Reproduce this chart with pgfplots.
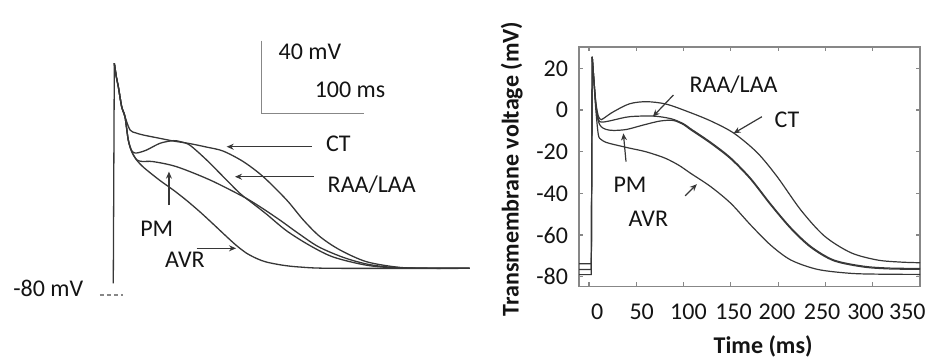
\documentclass[border=0pt]{standalone}
\usepackage{fontspec}
\setmainfont{Carlito}
\usepackage{pgfplots}
\pgfplotsset{compat=1.18}
\usetikzlibrary{arrows.meta}
\definecolor{curve}{RGB}{55,55,55}
\definecolor{frame}{RGB}{135,135,135}
\definecolor{txt}{RGB}{20,20,20}
\begin{document}
\begin{tikzpicture}[
  ann/.style={font=\fontsize{12}{14}\selectfont, text=txt},
  tl/.style={font=\fontsize{12}{14}\selectfont, text=txt, inner sep=0pt},
  arr/.style={-{Stealth[length=3.5pt,width=3pt]}, curve, line width=0.6pt}]
\useasboundingbox (0pt,0pt) rectangle (466.5pt,181.5pt);
%================ LEFT PANEL (schematic, no axes) =================
\begin{axis}[at={(0pt,0pt)}, anchor=south west, scale only axis,
  width=235pt, height=181.5pt,
  xmin=-110.3, xmax=347.3, ymin=-117.4, ymax=82.35,
  axis lines=none, clip=false,
  every axis plot/.append style={curve, line width=0.65pt}]
% upstroke
\addplot[sharp plot] coordinates {(0,-73.6) (1,47.5)};
% CT
\addplot[smooth, tension=0.5] coordinates {(1,47.5) (3,40) (5,34.3) (8.2,23.6) (11.4,18.1) (16.3,10.8) (22,9.2) (29.2,8.05) (45.5,6.2) (58.4,4.75) (74.7,3.3) (90.9,1.4) (107,-0.8) (126.6,-6.6) (146,-14.9) (168.8,-27.7) (185,-38.7) (201.3,-47.9) (220.7,-55.2) (246.7,-61.7) (279,-64.8) (310,-65.3) (347,-65.3)};
% RAA/LAA
\addplot[smooth, tension=0.5] coordinates {(1,47.5) (3,40) (5,34.3) (8.2,23.6) (11.4,18.1) (14.6,5.3) (17.9,-0.5) (21,-1.8) (25,-1.6) (32.5,-0.2) (45.5,3.5) (58.4,4.95) (66,4.3) (74.7,2.4) (90.9,-5.7) (107.1,-14.9) (123.4,-24.1) (136.3,-29.8) (149.4,-35.6) (168.8,-44.7) (191.5,-52.8) (214.2,-59.1) (246.7,-63.6) (279,-65.1) (347,-65.3)};
% PM
\addplot[smooth, tension=0.5] coordinates {(1,47.5) (3,40) (5,34.3) (8.2,23.6) (11.4,18.1) (14.6,5.3) (17.9,-1) (22.7,-5.5) (28,-6.5) (38.9,-6.6) (61.7,-9.4) (94.2,-16.7) (126.6,-25.9) (142.8,-31.4) (162.3,-38.8) (180,-46) (200,-53.5) (225,-59.5) (250,-63.3) (280,-65) (347,-65.3)};
% AVR
\addplot[smooth, tension=0.5] coordinates {(1,47.5) (3,40) (5,34.3) (8.2,23.6) (11.4,18.1) (14.6,5.3) (17.9,-1) (22.7,-5.7) (30,-10) (45.5,-17) (58.4,-22.2) (71.5,-28) (84.9,-34.5) (97,-40.8) (110.4,-47.9) (120,-52.8) (129.8,-57) (140,-60) (149.4,-61.9) (165,-63.6) (181.8,-64.6) (214.2,-65.3) (347,-65.3)};
% scale bars
\draw[frame, line width=0.7pt] (axis cs:144.5,60) -- (axis cs:144.5,20) -- (axis cs:244.5,20);
\draw[frame, line width=0.7pt, dash pattern=on 2pt off 1.5pt] (axis cs:-13,-80) -- (axis cs:9.7,-80);
\node[ann] at (axis cs:191.5,53.9) {40 mV};
\node[ann] at (axis cs:230.5,32.8) {100 ms};
\node[ann] at (axis cs:-63.3,-76.3) {-80 mV};
\node[ann] at (axis cs:219.1,3.45) {CT};
\node[ann] at (axis cs:251.6,-19.5) {RAA/LAA};
\node[ann] at (axis cs:42.3,-43.3) {PM};
\node[ann] at (axis cs:69.8,-60.7) {AVR};
\draw[arr] (axis cs:193.2,1.6) -- (axis cs:110.4,1.6);
\draw[arr] (axis cs:195,-14.9) -- (axis cs:118.5,-14.9);
\draw[arr] (axis cs:54.2,-30.5) -- (axis cs:54.2,-12.1);
\draw[arr] (axis cs:81.2,-54.3) -- (axis cs:119.5,-54.3);
\end{axis}
%================ RIGHT PANEL =================
\begin{axis}[at={(289.5pt,38.25pt)}, anchor=south west, scale only axis,
  width=170.5pt, height=119.9pt,
  xmin=-10.5, xmax=350, ymin=-84.7, ymax=30.4,
  xtick={0,50,...,350}, ytick={-80,-60,...,20},
  xticklabels={},
  tick pos=both, tick align=inside, major tick length=2pt,
  every tick/.style={frame, line width=0.6pt},
  axis line style={frame, line width=0.9pt},
  /pgf/number format/assume math mode=true,
  tick label style={font=\fontsize{12}{14}\selectfont, text=txt},
  yticklabel style={xshift=-2pt},
  xlabel={\textbf{Time (ms)}}, ylabel={\textbf{Transmembrane voltage (mV)}},
  label style={font=\fontsize{12}{14}\selectfont, text=txt},
  xlabel style={at={(rel axis cs:0.54,-0.251)}, anchor=center},
  ylabel style={at={(rel axis cs:-0.197,0.49)}, anchor=center},
  clip=false,
  every axis plot/.append style={curve, line width=0.6pt}]
% baselines + upstrokes
\addplot[sharp plot] coordinates {(-10.5,-73.8) (2.5,-73.8) (3.5,25.5)};
\addplot[sharp plot] coordinates {(-10.5,-76.5) (2.5,-76.5) (3.5,25.5)};
\addplot[sharp plot] coordinates {(-10.5,-79) (2.5,-79) (3.5,25.5)};
% CT
\addplot[smooth, tension=0.5] coordinates {(3.5,25.5) (5.5,13) (7.5,3) (10,-3) (13,-4.6) (18,-3.2) (26,-0.8) (43,3) (61,4) (82,2.8) (107,-1.2) (130,-5.5) (153.5,-11.2) (178,-20.5) (199,-32) (224,-48) (249,-60.5) (277,-68.5) (305,-72) (330,-73) (350,-73.3)};
% RAA/LAA
\addplot[smooth, tension=0.5] coordinates {(3.5,25.5) (5.5,13) (7.5,2) (10,-4.5) (13,-5.8) (20,-5.4) (26,-4.8) (43,-3.2) (68,-2.9) (87,-4.2) (100,-6.6) (107.6,-9) (128.8,-15.5) (150,-23) (171,-32.8) (192,-45) (213.5,-56.5) (234.7,-65.5) (259,-72) (291,-75) (320,-75.9) (350,-76)};
% PM
\addplot[smooth, tension=0.5] coordinates {(3.5,25.5) (5.5,13) (7.5,1) (10,-5.5) (13,-8) (18,-9.3) (26,-9.8) (40,-9.3) (57.5,-7.2) (75,-5.3) (89,-5) (100,-7) (107.6,-9.5) (128.8,-16) (150,-23.5) (171,-33.3) (192,-45.5) (213.5,-57) (234.7,-66) (259,-72.4) (291,-75.4) (320,-76.3) (350,-76.4)};
% AVR
\addplot[smooth, tension=0.5] coordinates {(3.5,25.5) (5.5,12) (7.5,-1) (10,-12) (13,-14.2) (18,-15.5) (26,-16.5) (43,-18.3) (60,-20) (80,-23) (95,-26.5) (107.6,-30.4) (128.8,-36.8) (150,-44.8) (171,-55.2) (192,-64.8) (213.5,-72) (241.8,-76.5) (277,-78.4) (310,-78.8) (350,-78.9)};
% x tick labels (placed as in the original figure)
\node[tl, yshift=-12.6pt] at (axis cs:8.8,-84.7) {0};
\node[tl, yshift=-12.6pt] at (axis cs:55.8,-84.7) {50};
\node[tl, yshift=-12.6pt] at (axis cs:105.2,-84.7) {100};
\node[tl, yshift=-12.6pt] at (axis cs:152.9,-84.7) {150};
\node[tl, yshift=-12.6pt] at (axis cs:198.8,-84.7) {200};
\node[tl, yshift=-12.6pt] at (axis cs:246.5,-84.7) {250};
\node[tl, yshift=-12.6pt] at (axis cs:292.4,-84.7) {300};
\node[tl, yshift=-12.6pt] at (axis cs:336.6,-84.7) {350};
\node[ann] at (axis cs:152.9,12) {RAA/LAA};
\node[ann] at (axis cs:209.4,-4.8) {CT};
\node[ann] at (axis cs:43.4,-36) {PM};
\node[ann] at (axis cs:62.8,-52) {AVR};
\draw[arr] (axis cs:89.3,7.2) -- (axis cs:67.5,-3.2);
\draw[arr] (axis cs:182.9,-3.2) -- (axis cs:152.9,-11.2);
\draw[arr] (axis cs:39.2,-24.8) -- (axis cs:36.4,-11.2);
\draw[arr] (axis cs:101.7,-41.2) -- (axis cs:114.1,-35.6);
\end{axis}
\end{tikzpicture}
\end{document}
